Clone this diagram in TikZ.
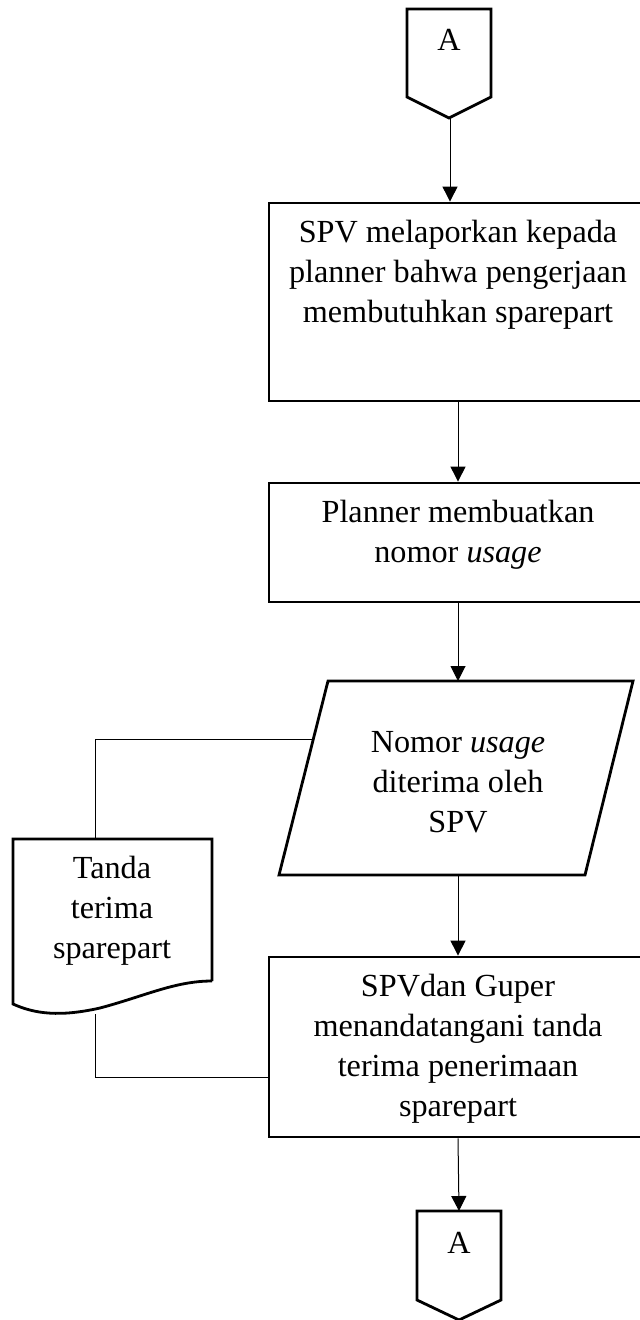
\documentclass[tikz,border=0pt]{standalone}
\usepackage{fontspec}
\setmainfont{Liberation Serif}
\usepackage{tikz}
\usetikzlibrary{arrows.meta,positioning}

\begin{document}
\begin{tikzpicture}[x=0.5pt, y=-0.5pt,
    bentuk/.style={line width=1.4pt, line join=miter},
    proses/.style={draw, bentuk, minimum width=189pt, inner sep=0pt},
    teks/.style={align=center, inner sep=0pt, font=\fontsize{16.1}{20}\selectfont},
    garis/.style={line width=0.5pt},
    panah/.style={garis, -{Triangle[length=7.5pt,width=7.5pt]}}]
    \useasboundingbox (0,0) rectangle (639,1320);

    % Connector A (top)
    \draw[bentuk] (407,9) -- (491,9) -- (491,97) -- (449,118) -- (407,97) -- cycle;
    \node[teks] (atasA) at (449,40) {A};
    \coordinate (atasS) at (450,118);

    % SPV melaporkan
    \node[proses, minimum height=99pt] (lapor) at (458,302) {};
    \node[teks] (laporT) at (458,275) {SPV melaporkan kepada\\planner bahwa pengerjaan\\membutuhkan sparepart};

    % Planner membuatkan nomor usage
    \node[proses, minimum height=59.5pt] (planner) at (458,542.5) {};
    \node[teks] (plannerT) at (458,535) {Planner membuatkan\\nomor \textit{usage}};

    % Nomor usage diterima (parallelogram)
    \draw[bentuk] (328,681) -- (633,681) -- (585,875) -- (279,875) -- cycle;
    \node[teks] (nomor) at (458,782) {Nomor \textit{usage}\\diterima oleh\\SPV};
    \coordinate (nomorN) at (458,681);
    \coordinate (nomorS) at (458,875);
    \coordinate (nomorW) at (313,739);

    % Tanda terima (document)
    \draw[bentuk] (212,981) -- (212,839) -- (13,839) -- (13,1004)
        .. controls (35,1014) and (60,1017) .. (100,1008)
        .. controls (145,996) and (175,981) .. (212,981);
    \node[teks] (tanda) at (112,911) {Tanda\\terima\\sparepart};
    \coordinate (tandaN) at (95,839);
    \coordinate (tandaS) at (95,1014);

    % SPV dan Guper
    \node[proses, minimum height=90pt] (paraf) at (458,1047) {};
    \node[teks] (parafT) at (458,1049) {SPVdan Guper\\menandatangani tanda\\terima penerimaan\\sparepart};

    % Connector A (bottom)
    \draw[bentuk] (417,1211) -- (501,1211) -- (501,1300) -- (459,1320) -- (417,1300) -- cycle;
    \node[teks] (bawahA) at (459,1243) {A};
    \coordinate (bawahN) at (459,1211);

    % arrows
    \draw[panah] (atasS) -- (atasS |- lapor.north);
    \draw[panah] (lapor.south) -- (planner.north);
    \draw[panah] (planner.south) -- (nomorN);
    \draw[panah] (nomorS) -- (paraf.north);
    \draw[panah] (paraf.south) -- (bawahN);

    % side lines to document
    \draw[garis] (nomorW) -| (tandaN);
    \draw[garis] (tandaS) |- ([yshift=-15pt]paraf.west);
\end{tikzpicture}
\end{document}
